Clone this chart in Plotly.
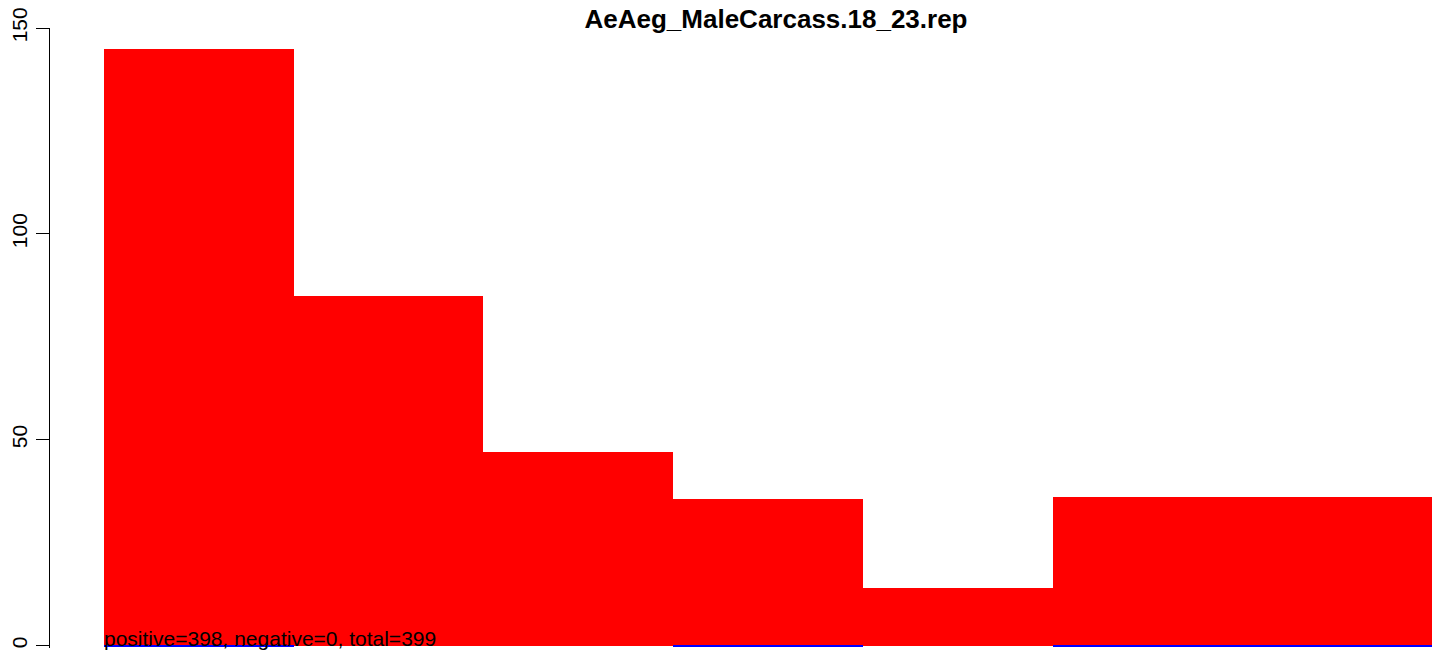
import plotly.graph_objects as go

# 数据
bins = [1, 2, 3, 4, 5, 6, 7]
positive = [145, 85, 47, 35.5, 14, 36, 36]
negative = [-0.25, 0, 0, -0.45, 0, -0.25, -0.25]
ticks = [0, 50, 100, 150]
title = "AeAeg_MaleCarcass.18_23.rep"
note = "positive=398, negative=0, total=399"

fig = go.Figure()
fig.add_trace(go.Bar(x=bins, y=positive, width=1, marker=dict(color="#ff0000", line=dict(width=0))))
fig.add_trace(go.Bar(x=bins, y=negative, width=1, marker=dict(color="#0000ff", line=dict(width=0))))

# 页面有 8px 的 body margin，所以图整体往左上收一点
fig.update_layout(
    width=1433, height=643,
    barmode="relative", bargap=0, showlegend=False,
    plot_bgcolor="white", paper_bgcolor="white",
    margin=dict(l=42, r=0, t=20, b=3),
    font=dict(family="Liberation Sans, Arial", color="black"),
    title=dict(text="<b>" + title + "</b>", x=768 / 1433, xanchor="center",
               y=1 - 2 / 643, yanchor="top", pad=dict(t=0), font=dict(size=26)),
)
fig.update_xaxes(range=[0.5 - 54 / 189.7, 0.5 - 54 / 189.7 + 1391 / 189.7], visible=False)
fig.update_yaxes(range=[-0.6, 150], tickvals=ticks, ticktext=[str(t) for t in ticks],
                 tickangle=-90, ticks="outside", ticklen=13, tickwidth=1, tickcolor="black",
                 ticklabelstandoff=1, ticklabeloverflow="allow", automargin=False,
                 showline=True, linecolor="black", linewidth=1, showgrid=False, zeroline=False,
                 tickfont=dict(size=21))

fig.add_annotation(x=0.5, y=0, xref="x", yref="y", text=note, showarrow=False,
                   xanchor="left", yanchor="bottom", yshift=-6, xshift=-2,
                   font=dict(size=21, color="black"))

fig.write_html("out.html")
